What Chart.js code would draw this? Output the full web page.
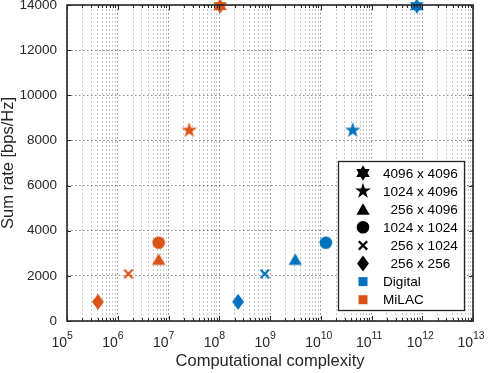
<!DOCTYPE html>
<html>
<head>
<meta charset="utf-8">
<script src="https://cdn.jsdelivr.net/npm/chart.js@4.4.0/dist/chart.umd.min.js"></script>
<style>
    html, body { margin: 0; padding: 0; background: #fff; }
    #chart { display: block; }
</style>
</head>
<body>
<canvas id="chart" width="489" height="373"></canvas>
<script>
// Array sizes, one entry per marker shape (same order everywhere)
const arraySizes = ['4096 x 4096', '1024 x 4096', '  256 x 4096', '1024 x 1024', '  256 x 1024', '  256 x 256'];
const markerShapes = ['hexagram', 'pentagram', 'triangle', 'circle', 'cross', 'diamond'];
const sumRate = [13950, 8450, 2730, 3470, 2090, 850];
const digitalComplexity = [7.8e11, 4.26e10, 3.15e9, 1.26e10, 7.9e8, 2.35e8];
const milacComplexity = [1.04e8, 2.57e7, 6.4e6, 6.4e6, 1.62e6, 4.07e5];

const systems = ['Digital', 'MiLAC'];
const systemColors = ['#0072BD', '#D95319'];

const xExponents = [5, 6, 7, 8, 9, 10, 11, 12, 13];
const yTicks = [0, 2000, 4000, 6000, 8000, 10000, 12000, 14000];

const FONT = '"Liberation Sans", Arial, Helvetica, sans-serif';
const AXIS_COLOR = '#262626';

// x ticks: every 1..9 x 10^n inside the range
const xTickValues = [];
for (let i = 0; i < xExponents.length; i++) {
    const base = Math.pow(10, xExponents[i]);
    if (i === xExponents.length - 1) { xTickValues.push(base); break; }
    for (let m = 1; m <= 9; m++) xTickValues.push(m * base);
}

function isDecade(v) {
    const l = Math.log10(v);
    return Math.abs(l - Math.round(l)) < 1e-9;
}

function drawMarker(ctx, shape, x, y, color) {
    ctx.save();
    ctx.fillStyle = color;
    ctx.strokeStyle = color;
    ctx.beginPath();
    if (shape === 'hexagram' || shape === 'pentagram') {
        const n = shape === 'hexagram' ? 6 : 5;
        const R = shape === 'hexagram' ? 7.8 : 8.3;
        const r = shape === 'hexagram' ? R / Math.sqrt(3) : R * 0.382;
        for (let k = 0; k < 2 * n; k++) {
            const a = -Math.PI / 2 + k * Math.PI / n;
            const rad = k % 2 === 0 ? R : r;
            const px = x + rad * Math.cos(a), py = y + rad * Math.sin(a);
            if (k === 0) ctx.moveTo(px, py); else ctx.lineTo(px, py);
        }
        ctx.closePath();
        ctx.fill();
    } else if (shape === 'triangle') {
        ctx.moveTo(x, y - 6);
        ctx.lineTo(x + 6.7, y + 5.5);
        ctx.lineTo(x - 6.7, y + 5.5);
        ctx.closePath();
        ctx.fill();
    } else if (shape === 'circle') {
        ctx.arc(x, y, 6.3, 0, Math.PI * 2);
        ctx.fill();
    } else if (shape === 'cross') {
        ctx.lineWidth = 2.2;
        ctx.moveTo(x - 4.2, y - 4.2); ctx.lineTo(x + 4.2, y + 4.2);
        ctx.moveTo(x + 4.2, y - 4.2); ctx.lineTo(x - 4.2, y + 4.2);
        ctx.stroke();
    } else if (shape === 'diamond') {
        ctx.moveTo(x, y - 8);
        ctx.lineTo(x + 5.9, y);
        ctx.lineTo(x, y + 8);
        ctx.lineTo(x - 5.9, y);
        ctx.closePath();
        ctx.fill();
    } else if (shape === 'square') {
        ctx.rect(x - 4.5, y - 4.5, 9, 9);
        ctx.fill();
    }
    ctx.restore();
}

function markerImage(shape, color) {
    const c = document.createElement('canvas');
    c.width = 22;
    c.height = 22;
    drawMarker(c.getContext('2d'), shape, 11, 11, color);
    return c;
}

const datasets = systems.map((name, s) => {
    const xs = s === 0 ? digitalComplexity : milacComplexity;
    return {
        label: name,
        data: xs.map((x, i) => ({ x: x, y: sumRate[i] })),
        pointStyle: markerShapes.map(sh => markerImage(sh, systemColors[s])),
        showLine: false,
        clip: false
    };
});

// Box, inward ticks, superscript x labels and the legend
const matlabAxes = {
    id: 'matlabAxes',
    afterDraw(chart) {
        const ctx = chart.ctx;
        const a = chart.chartArea;
        const xs = chart.scales.x, ys = chart.scales.y;
        ctx.save();

        // tick marks
        ctx.strokeStyle = AXIS_COLOR;
        ctx.lineWidth = 1;
        ctx.beginPath();
        xTickValues.forEach(v => {
            const px = Math.round(xs.getPixelForValue(v)) + 0.5;
            const len = isDecade(v) ? 5 : 3;
            ctx.moveTo(px, a.bottom); ctx.lineTo(px, a.bottom - len);
            ctx.moveTo(px, a.top); ctx.lineTo(px, a.top + len);
        });
        yTicks.forEach(v => {
            const py = Math.round(ys.getPixelForValue(v)) + 0.5;
            ctx.moveTo(a.left, py); ctx.lineTo(a.left + 4, py);
            ctx.moveTo(a.right, py); ctx.lineTo(a.right - 4, py);
        });
        ctx.stroke();

        // box
        ctx.lineWidth = 1.6;
        ctx.strokeRect(a.left, a.top, a.right - a.left, a.bottom - a.top);

        // x tick labels 10^n
        ctx.fillStyle = AXIS_COLOR;
        ctx.textBaseline = 'alphabetic';
        xExponents.forEach(e => {
            const px = xs.getPixelForValue(Math.pow(10, e));
            ctx.font = '14px ' + FONT;
            ctx.textAlign = 'right';
            ctx.fillText('10', px, 347);
            ctx.font = '10.5px ' + FONT;
            ctx.textAlign = 'left';
            ctx.fillText(String(e), px, 338.5);
        });

        // legend
        const lx = 338.5, ly = 161.5, lw = 126, lh = 149;
        ctx.fillStyle = '#fff';
        ctx.fillRect(lx, ly, lw, lh);
        ctx.strokeStyle = AXIS_COLOR;
        ctx.lineWidth = 1.3;
        ctx.strokeRect(lx, ly, lw, lh);
        const entries = arraySizes.map((t, i) => ({ text: t, shape: markerShapes[i], color: '#000' }))
            .concat(systems.map((t, s) => ({ text: t, shape: 'square', color: systemColors[s] })));
        ctx.font = '13.6px ' + FONT;
        ctx.textAlign = 'left';
        ctx.textBaseline = 'middle';
        entries.forEach((en, i) => {
            const y = 173 + i * 18.1;
            drawMarker(ctx, en.shape, 363, y, en.color);
            ctx.fillStyle = '#000';
            ctx.fillText(en.text, 383, y + 1);
        });
        ctx.restore();
    }
};

const isMajorCtx = c => c.tick && isDecade(c.tick.value);

new Chart(document.getElementById('chart'), {
    type: 'scatter',
    data: { datasets: datasets },
    options: {
        responsive: false,
        animation: false,
        devicePixelRatio: 1,
        layout: { autoPadding: false, padding: { top: 5, right: 16, left: 0, bottom: 0 } },
        plugins: {
            legend: { display: false },
            tooltip: { enabled: false }
        },
        elements: { point: { radius: 8 } },
        scales: {
            x: {
                type: 'logarithmic',
                min: 1e5,
                max: 1e13,
                afterBuildTicks: s => { s.ticks = xTickValues.map(v => ({ value: v, major: isDecade(v) })); },
                afterFit: s => { s.height = 52; s.paddingLeft = 0; s.paddingRight = 0; },
                ticks: { display: false, autoSkip: false },
                grid: {
                    color: c => isMajorCtx(c) ? 'rgba(0,0,0,0.45)' : 'rgba(0,0,0,0.22)',
                    lineWidth: 1,
                    drawTicks: false
                },
                border: { display: false, dash: c => isMajorCtx(c) ? [1.5, 2.5] : [2, 2] },
                title: {
                    display: true,
                    text: 'Computational complexity',
                    color: AXIS_COLOR,
                    font: { family: FONT, size: 16.5 },
                    padding: { top: 0, bottom: 1.5 }
                }
            },
            y: {
                min: 0,
                max: 14000,
                afterBuildTicks: s => { s.ticks = yTicks.map(v => ({ value: v })); },
                afterFit: s => { s.width = 67; s.paddingTop = 0; s.paddingBottom = 0; },
                ticks: {
                    padding: 10,
                    color: AXIS_COLOR,
                    font: { family: FONT, size: 13.5 },
                    callback: v => String(v)
                },
                grid: { color: 'rgba(0,0,0,0.45)', lineWidth: 1, drawTicks: false },
                border: { display: false, dash: [1.5, 2.5] },
                title: {
                    display: true,
                    text: 'Sum rate [bps/Hz]',
                    color: AXIS_COLOR,
                    font: { family: FONT, size: 16.5 },
                    padding: { top: -1, bottom: 0 }
                }
            }
        }
    },
    plugins: [matlabAxes]
});
</script>
</body>
</html>
